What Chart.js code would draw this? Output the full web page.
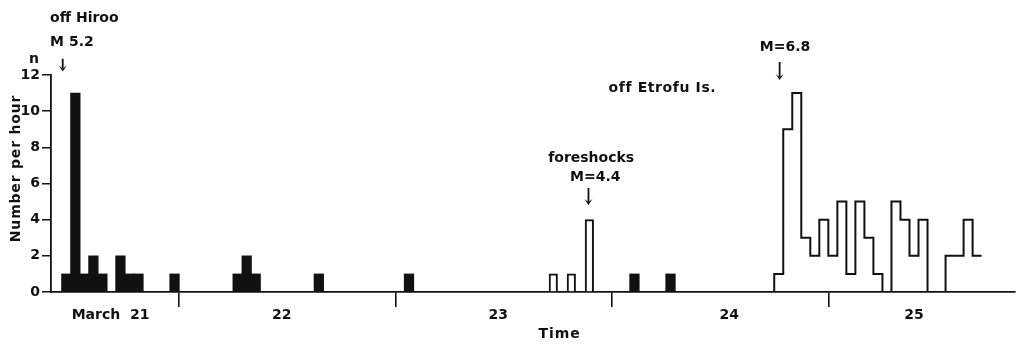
<!DOCTYPE html>
<html><head><meta charset="utf-8">
<script src="https://cdn.jsdelivr.net/npm/chart.js@4"></script>
<style>html,body{margin:0;padding:0;background:#fff}#wrap{width:1020px;height:344px;position:relative}</style>
</head><body><div id="wrap"><canvas id="c" width="1020" height="344"></canvas></div>
<script>
// Hours counted from March 21, 00:00 (one bin = one hour)
const filledHours  = [11,12,13,14,15,17,18,19,23,30,31,32,39,49,74,78];
const filledCounts = [ 1,11, 1, 2, 1, 2, 1, 1, 1, 1, 2, 1, 1, 1, 1, 1];
const foreshockHours  = [65,67,69];
const foreshockCounts = [1,1,4];
const aftershockHours  = [90,91,92,93,94,95,96,97,98,99,100,101,102,103,104,105,106,107,108,109,110,111,112];
const aftershockCounts = [1, 9,11, 3, 2, 4, 2, 5, 1, 5,  3,  1,  0,  5,  4,  2,  4,  0,  0,  2,  2,  4,  2];
const aftershockEnd = 113;
const dayBoundaryHours = [24,48,72,96];
const dayLabelHours = [16.4,35.4,59.4,85,105.5];
const dayLabels = ['March  21','22','23','24','25'];
const yTicks = [0,2,4,6,8,10,12];

const INK = '#111';
const FONT = "'DejaVu Sans', sans-serif";

const notes = [
  {text:'off Hiroo', h:9.7, v:15.15, align:'left', sp:0},
  {text:'M 5.2', h:9.7, v:13.83, align:'left', sp:0},
  {text:'n', h:7.9, v:12.85, align:'center', sp:0},
  {text:'M=6.8', h:91.2, v:13.55, align:'center', sp:0},
  {text:'off Etrofu Is.', h:77.6, v:11.28, align:'center', sp:0.6},
  {text:'foreshocks', h:69.7, v:7.41, align:'center', sp:0},
  {text:'M=4.4', h:70.15, v:6.36, align:'center', sp:0}
];
const arrows = [
  {h:11.1, from:12.9, to:12.2},
  {h:90.6, from:12.72, to:11.73},
  {h:69.4, from:5.75, to:4.81}
];

const annotate = {
  id:'annotate',
  afterDraw(chart){
    const {ctx, scales:{x,y}, chartArea} = chart;
    ctx.save();
    ctx.fillStyle = INK; ctx.strokeStyle = INK;
    ctx.textBaseline = 'middle';
    ctx.font = 'bold 14px ' + FONT;
    notes.forEach(n => {
      ctx.letterSpacing = n.sp + 'px';
      ctx.textAlign = n.align;
      ctx.fillText(n.text, x.getPixelForValue(n.h), y.getPixelForValue(n.v));
    });
    ctx.lineWidth = 1.8;
    arrows.forEach(a => {
      const px = x.getPixelForValue(a.h), y0 = y.getPixelForValue(a.from), y1 = y.getPixelForValue(a.to);
      ctx.beginPath(); ctx.moveTo(px, y0); ctx.lineTo(px, y1 - 3); ctx.stroke();
      ctx.beginPath(); ctx.moveTo(px - 4, y1 - 6); ctx.lineTo(px, y1); ctx.lineTo(px + 4, y1 - 6); ctx.lineTo(px, y1 - 3); ctx.closePath(); ctx.fill();
    });
    // axis titles
    ctx.font = 'bold 14px ' + FONT;
    ctx.letterSpacing = '1px';
    ctx.textAlign = 'center';
    ctx.fillText('Time', x.getPixelForValue(66.2), chartArea.bottom + 42);
    ctx.save();
    ctx.translate(chartArea.left - 35, y.getPixelForValue(6.83));
    ctx.rotate(-Math.PI/2);
    ctx.letterSpacing = '0.8px';
    ctx.fillText('Number per hour', 0, 0);
    ctx.restore();
    ctx.restore();
  }
};

const filledData = filledHours.map((h,i) => ({x:h + 0.5, y:filledCounts[i]}));
const foreData = foreshockHours.map((h,i) => ({x:h + 0.5, y:foreshockCounts[i]}));
const afterData = [{x:aftershockHours[0], y:0}]
  .concat(aftershockHours.map((h,i) => ({x:h, y:aftershockCounts[i]})))
  .concat([{x:aftershockEnd, y:aftershockCounts[aftershockCounts.length-1]}]);

new Chart(document.getElementById('c'), {
  type:'line',
  data:{datasets:[
    {type:'bar', data:filledData, backgroundColor:INK, borderWidth:0, barThickness:9.6, grouped:false},
    {type:'bar', data:foreData, backgroundColor:'#fff', borderColor:INK, borderWidth:2, barThickness:8.5, grouped:false},
    {type:'line', data:afterData, stepped:'before', borderColor:INK, borderWidth:2, pointRadius:0, fill:false, tension:0}
  ]},
  options:{
    responsive:false, animation:false,
    layout:{padding:{top:75, right:5, bottom:0, left:0}},
    plugins:{legend:{display:false}, tooltip:{enabled:false}},
    scales:{
      x:{type:'linear', min:9.8, max:116.7, offset:false,
        afterBuildTicks: s => { s.ticks = dayBoundaryHours.concat(dayLabelHours).sort((a,b)=>a-b).map(v => ({value:v})); },
        afterFit: s => { s.height = 52; },
        ticks:{autoSkip:false, maxRotation:0, minRotation:0, padding:0, color:INK,
          font:{family:FONT, size:14, weight:'bold'},
          callback: v => { const i = dayLabelHours.indexOf(v); return i >= 0 ? dayLabels[i] : ''; }},
        grid:{drawOnChartArea:false, drawTicks:true, tickLength:15, lineWidth:1.6, offset:false,
          color: c => (c.tick && dayBoundaryHours.includes(c.tick.value)) ? INK : 'rgba(0,0,0,0)'},
        border:{display:true, color:INK, width:1.8}
      },
      y:{type:'linear', min:0, max:12,
        afterBuildTicks: s => { s.ticks = yTicks.map(v => ({value:v})); },
        afterFit: s => { s.width = 51; },
        ticks:{padding:2, color:INK, font:{family:FONT, size:14, weight:'bold'}},
        grid:{drawOnChartArea:false, drawTicks:true, tickLength:9, lineWidth:1.5, color:INK},
        border:{display:true, color:INK, width:1.8}
      }
    }
  },
  plugins:[annotate]
});
</script>
</body></html>
